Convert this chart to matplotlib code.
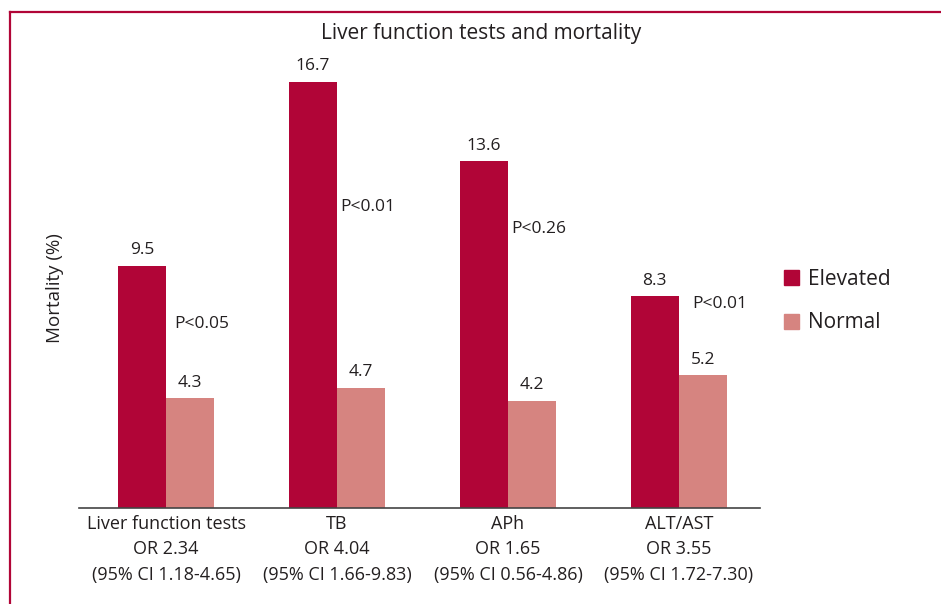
import matplotlib
matplotlib.use("Agg")
import matplotlib.pyplot as plt
from matplotlib.lines import Line2D
from matplotlib.patches import Patch
import numpy as np

plt.rcParams['font.family'] = ['Open Sans', 'DejaVu Sans']

categories = ["Liver function tests", "TB", "APh", "ALT/AST"]
or_labels = ["OR 2.34", "OR 4.04", "OR 1.65", "OR 3.55"]
ci_labels = ["(95% CI 1.18-4.65)", "(95% CI 1.66-9.83)", "(95% CI 0.56-4.86)", "(95% CI 1.72-7.30)"]
elevated = [9.5, 16.7, 13.6, 8.3]
normal = [4.3, 4.7, 4.2, 5.2]
p_labels = ["P<0.05", "P<0.01", "P<0.26", "P<0.01"]
p_ypos = [7.2, 11.8, 10.95, 8.0]
p_xoff = [0.05, 0.02, 0.02, 0.08]

c_elev = "#B10537"
c_norm = "#D68480"
txt = "#231F20"

fig = plt.figure(figsize=(9.41, 6.04), dpi=100)
W, H = 941, 604
ax = fig.add_axes([79 / W, 1 - 508 / H, (760 - 79) / W, (508 - 50) / H])

x = np.arange(len(categories))
bw = 0.282
ax.bar(x - bw / 2, elevated, width=bw, color=c_elev, label="Elevated")
ax.bar(x + bw / 2, normal, width=bw, color=c_norm, label="Normal")

for i in range(len(categories)):
    ax.text(x[i] - bw / 2, elevated[i] + 0.3, f"{elevated[i]}", ha="center", va="bottom",
            fontsize=12.5, color=txt)
    ax.text(x[i] + bw / 2, normal[i] + 0.3, f"{normal[i]}", ha="center", va="bottom",
            fontsize=12.5, color=txt)
    ax.text(x[i] + p_xoff[i], p_ypos[i], p_labels[i], ha="left", va="center",
            fontsize=12.5, color=txt)

ax.set_xlim(-0.509, 3.474)
ax.set_ylim(0, 17.96)
ax.set_xticks(x)
ax.set_xticklabels([f"{c}\n{o}\n{ci}" for c, o, ci in zip(categories, or_labels, ci_labels)],
                   fontsize=13, color=txt, linespacing=1.52)
ax.tick_params(axis="x", length=0, pad=5)
ax.set_yticks([])
for s in ["left", "right", "top"]:
    ax.spines[s].set_visible(False)
ax.spines["bottom"].set_color("#444444")
ax.spines["bottom"].set_linewidth(1.2)
ax.set_ylabel("Mortality (%)", fontsize=13.5, color=txt)
ax.yaxis.set_label_coords(-0.022, 0.48)

fig.text(481 / W, 1 - 33 / H, "Liver function tests and mortality", ha="center", va="center",
         fontsize=15, color=txt)

handles = [Patch(color=c_elev), Patch(color=c_norm)]
leg = fig.legend(handles, ["Elevated", "Normal"], loc="center left",
                 bbox_to_anchor=(765 / W, 1 - 301 / H), frameon=False, fontsize=15,
                 handlelength=0.75, handleheight=0.75, labelspacing=1.1, handletextpad=0.4)
for t in leg.get_texts():
    t.set_color(txt)

fig.add_artist(Line2D([10 / W, 1.0], [1 - 12 / H, 1 - 12 / H], transform=fig.transFigure,
                      color=c_elev, lw=1.6))
fig.add_artist(Line2D([10 / W, 10 / W], [0, 1 - 12 / H], transform=fig.transFigure,
                      color=c_elev, lw=1.6))

fig.savefig("out.png", dpi=100)
